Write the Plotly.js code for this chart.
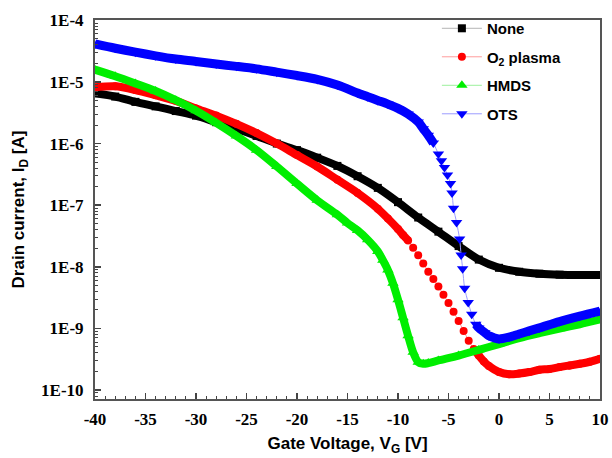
<!DOCTYPE html>
<html>
<head>
<meta charset="utf-8">
<script src="https://cdn.plot.ly/plotly-3.0.1.min.js"></script>
<style>html,body{margin:0;padding:0;background:#fff;}#chart{width:612px;height:458px;}</style>
</head>
<body>
<div id="chart"></div>
<script>
// ---- data ----
const seriesNames = ['None', 'O<sub>2</sub> plasma', 'HMDS', 'OTS'];

const noneV = [-40,-38,-36,-34,-32,-30,-28,-26,-24,-22,-20,-18,-16,-14,-12,-10,-8,-6,-4,-2,0,2,4,6,8,10];
const noneI = [6.55e-6,5.79e-6,4.75e-6,4.01e-6,3.37e-6,2.84e-6,2.22e-6,1.74e-6,1.33e-6,1.0e-6,7.82e-7,5.90e-7,4.34e-7,2.95e-7,1.91e-7,1.12e-7,6.31e-8,3.72e-8,2.17e-8,1.31e-8,9.64e-9,8.32e-9,7.73e-9,7.45e-9,7.36e-9,7.36e-9];

const o2V = [-40,-38,-36,-34,-32,-30,-28,-26,-24,-22,-20,-18,-16,-14,-12,-11,-10,-9.5,-9,-8.5,-8,-7.5,-7,-6.5,-6,-5.5,-5,-4.5,-4,-3.5,-3,-2.5,-2,-1.5,-1,0,1,2,3,4,5,6,7,8,9,10];
const o2I = [8.2e-6,8.5e-6,7.40e-6,6.08e-6,4.93e-6,3.72e-6,2.84e-6,2.09e-6,1.48e-6,1.0e-6,6.50e-7,4.24e-7,2.59e-7,1.58e-7,8.79e-8,6.08e-8,4.10e-8,3.29e-8,2.67e-8,2.04e-8,1.54e-8,1.13e-8,8.32e-9,6.35e-9,4.79e-9,3.52e-9,2.59e-9,1.86e-9,1.32e-9,9.12e-10,6.31e-10,4.65e-10,3.63e-10,2.91e-10,2.45e-10,1.96e-10,1.80e-10,1.85e-10,1.96e-10,2.14e-10,2.19e-10,2.36e-10,2.51e-10,2.67e-10,2.88e-10,3.21e-10];

const hmdsV = [-40,-38,-36,-34,-32,-30,-28,-26,-24,-22,-20,-18,-16,-15,-14,-13,-12,-11.5,-11,-10.5,-10,-9.5,-9,-8.5,-8,-7.5,-7,-6,-4,-2,0,2,4,6,8,10];
const hmdsI = [1.58e-5,1.24e-5,9.46e-6,7.13e-6,5.06e-6,3.41e-6,2.17e-6,1.33e-6,7.82e-7,4.24e-7,2.24e-7,1.20e-7,7.0e-8,5.13e-8,3.89e-8,2.75e-8,1.78e-8,1.28e-8,8.85e-9,5.41e-9,2.93e-9,1.49e-9,7.59e-10,4.10e-10,2.84e-10,2.67e-10,2.74e-10,3.02e-10,3.63e-10,4.48e-10,5.58e-10,6.97e-10,8.37e-10,9.93e-10,1.17e-9,1.40e-9];

const otsV = [-40,-38,-36,-34,-32,-30,-28,-26,-24,-22,-20,-18,-16,-14,-13,-12,-11,-10,-9,-8,-7.5,-7,-6.5,-6,-5.7,-5.4,-5.1,-4.8,-4.65,-4.5,-4.2,-3.9,-3.75,-3.6,-3.4,-3.05,-2.7,-2.3,-2,-1.4,-1,-0.5,0,1,2,3,4,6,8,10];
const otsI = [4.13e-5,3.52e-5,3.04e-5,2.65e-5,2.35e-5,2.15e-5,1.95e-5,1.79e-5,1.63e-5,1.44e-5,1.27e-5,1.10e-5,8.89e-6,6.61e-6,5.75e-6,5.01e-6,4.37e-6,3.72e-6,3.02e-6,2.24e-6,1.74e-6,1.36e-6,1.02e-6,6.76e-7,5.25e-7,4.07e-7,3.09e-7,2.24e-7,1.58e-7,8.91e-8,5.25e-8,2.82e-8,1.55e-8,9.33e-9,4.47e-9,2.63e-9,1.70e-9,1.17e-9,1.02e-9,8.51e-10,7.59e-10,7.08e-10,6.76e-10,7.24e-10,8.13e-10,9.12e-10,1.02e-9,1.29e-9,1.58e-9,1.91e-9];

const xTickVals = [-40,-35,-30,-25,-20,-15,-10,-5,0,5,10];
const xTickText = ['-40','-35','-30','-25','-20','-15','-10','-5','0','5','10'];
const yTickVals = [1e-10,1e-9,1e-8,1e-7,1e-6,1e-5,1e-4];
const yTickText = ['1E-10','1E-9','1E-8','1E-7','1E-6','1E-5','1E-4'];

// ---- styling ----
const styles = [
  {color:'#000000', light:'#b4b4b4', symbol:'square', size:8, band:8, thr:1},
  {color:'#ff0000', light:'#ff9c9c', symbol:'circle', size:8, band:8, thr:0.22},
  {color:'#00ee00', light:'#9cf09c', symbol:'triangle-up', size:10, band:8, thr:1},
  {color:'#0000ff', light:'#9c9cff', symbol:'triangle-down', size:10, band:9, thr:0.3}
];
const sets = [[noneV,noneI],[o2V,o2I],[hmdsV,hmdsI],[otsV,otsI]];

// dense measurement band: drawn where the curve is gentle, broken where markers separate
function band(xs, ys, thr){
  const bx=[], by=[];
  for(let i=0;i<xs.length;i++){
    bx.push(xs[i]); by.push(ys[i]);
    if(i<xs.length-1){
      const s=Math.abs(Math.log10(ys[i+1])-Math.log10(ys[i]))/(xs[i+1]-xs[i]);
      if(s>thr){bx.push(null); by.push(null);}
    }
  }
  return [bx,by];
}

const traces=[];
sets.forEach((d,k)=>{
  const st=styles[k];
  const [bx,by]=band(d[0],d[1],st.thr);
  traces.push({x:d[0],y:d[1],mode:'lines+markers',type:'scatter',name:seriesNames[k],legendgroup:'g'+k,
    line:{color:st.light,width:1,shape:'spline',smoothing:0.8},
    marker:{symbol:st.symbol,size:st.size,color:st.color,line:{width:0}}});
  traces.push({x:bx,y:by,mode:'lines',type:'scatter',line:{color:st.color,width:st.band,shape:'spline',smoothing:0.8},
    showlegend:false,legendgroup:'g'+k,hoverinfo:'skip',connectgaps:false});
});

const tickFont={family:'Liberation Serif, Times New Roman, serif',size:17,color:'#000',weight:'bold'};
const titleFont={family:'Liberation Sans, Arial, sans-serif',size:17,color:'#000',weight:'bold'};

const layout={
  width:612,height:458,
  margin:{l:95,r:12,t:15,b:59},
  paper_bgcolor:'#fff',plot_bgcolor:'#fff',
  showlegend:true,
  legend:{x:0.677,y:1.021,xanchor:'left',yanchor:'top',bgcolor:'rgba(0,0,0,0)',borderwidth:0,
    itemwidth:40,tracegroupgap:6,
    font:{family:'Liberation Sans, Arial, sans-serif',size:15,color:'#000',weight:'bold'}},
  xaxis:{range:[-40,10],tickmode:'array',tickvals:xTickVals,ticktext:xTickText,
    ticks:'inside',ticklen:6,tickwidth:1.5,tickcolor:'#444',
    minor:{dtick:1,ticks:'inside',ticklen:3,tickwidth:1,tickcolor:'#444',showgrid:false},
    showline:true,linewidth:2,linecolor:'#555',mirror:true,showgrid:false,zeroline:false,
    tickfont:tickFont,ticklabelstandoff:4,
    title:{text:'Gate Voltage, V<sub>G</sub> [V]',font:titleFont,standoff:9}},
  yaxis:{type:'log',range:[-10.145,-3.995],tickmode:'array',tickvals:yTickVals,ticktext:yTickText,
    ticks:'inside',ticklen:6,tickwidth:1.5,tickcolor:'#444',
    minor:{dtick:'D1',ticks:'inside',ticklen:3,tickwidth:1,tickcolor:'#444',showgrid:false},
    showline:true,linewidth:2,linecolor:'#555',mirror:true,showgrid:false,zeroline:false,
    tickfont:tickFont,ticklabelstandoff:6,
    title:{text:'Drain current, I<sub>D</sub> [A]',font:titleFont,standoff:12}}
};

Plotly.newPlot('chart',traces,layout,{displayModeBar:false,staticPlot:true});
</script>
</body>
</html>
